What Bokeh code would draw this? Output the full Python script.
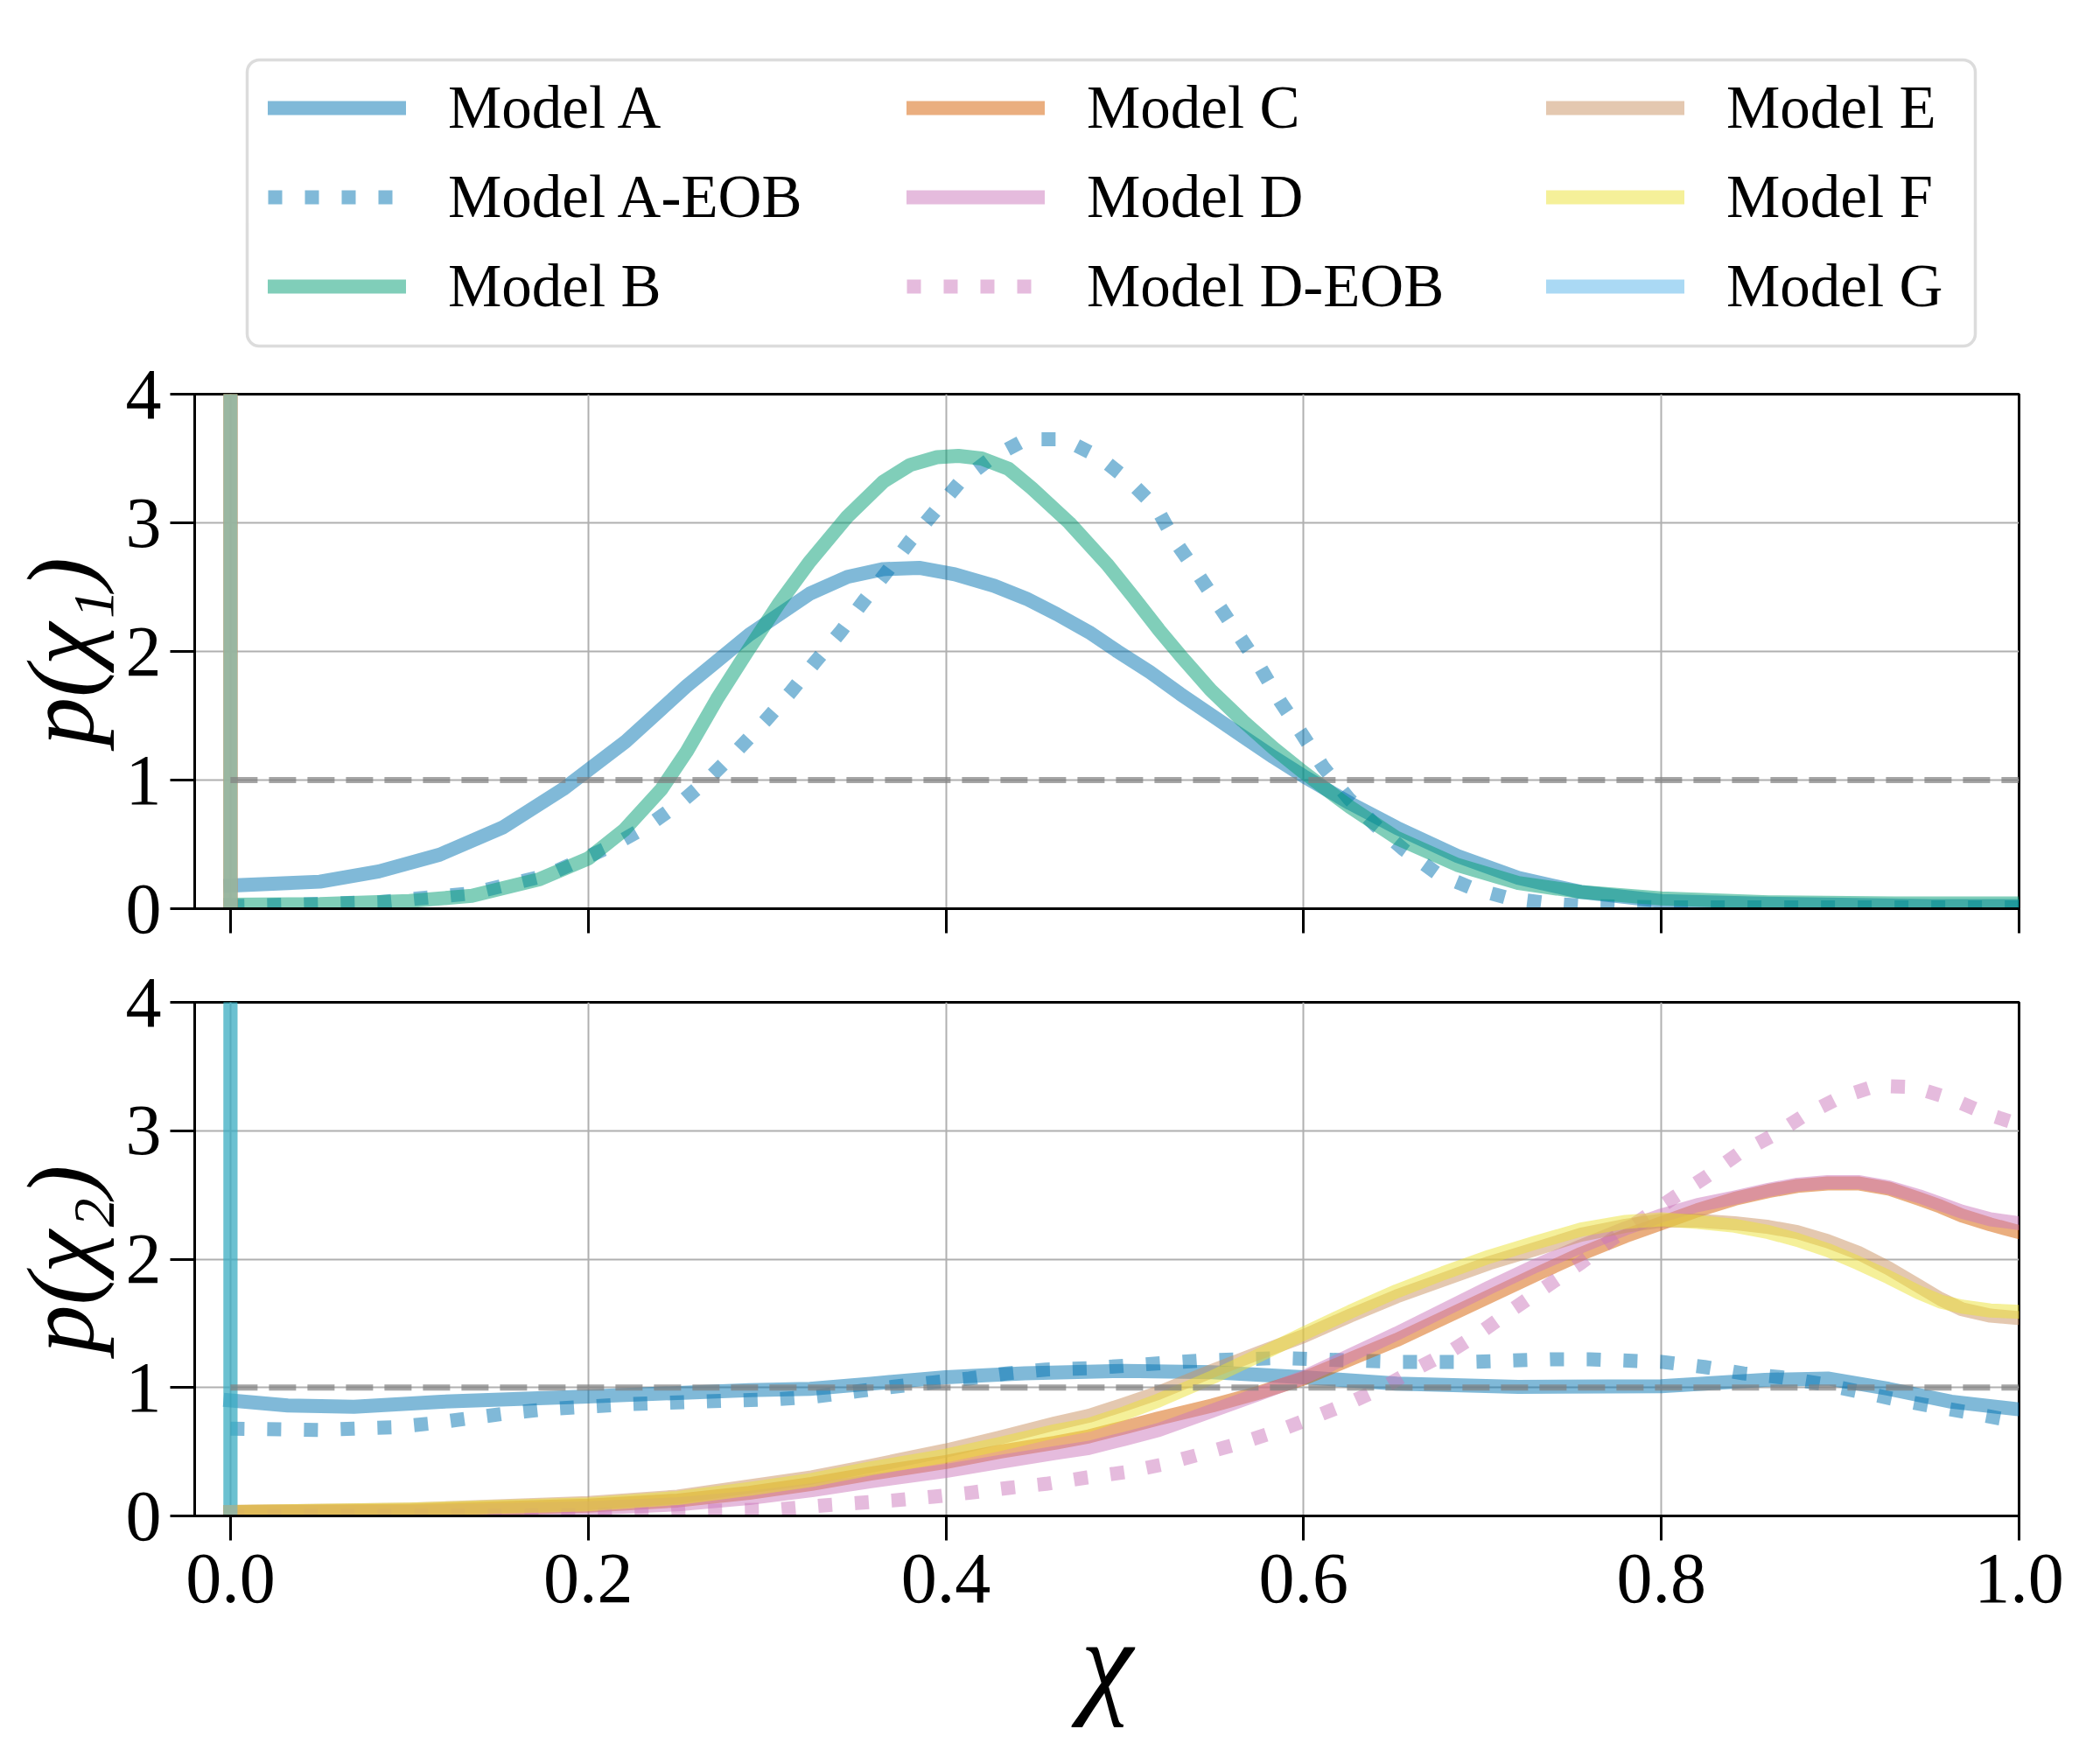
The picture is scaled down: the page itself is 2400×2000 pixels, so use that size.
from bokeh.plotting import figure
from bokeh.models import (Legend, LegendItem, BoxAnnotation, FixedTicker, Range1d,
                          CustomJSTickFormatter)
from bokeh.layouts import column
from bokeh.embed import file_html
from bokeh.resources import INLINE

# ------------------------------------------------------------------ data
x_ticks = [0.0, 0.2, 0.4, 0.6, 0.8, 1.0]
x_tick_labels = ["0.0", "0.2", "0.4", "0.6", "0.8", "1.0"]
y_ticks = [0, 1, 2, 3, 4]
y_tick_labels = ["0", "1", "2", "3", "4"]

# p(chi_1)
chi1_A_x = [0.0, 0.05, 0.083, 0.117, 0.152, 0.186, 0.221, 0.255, 0.29, 0.324, 0.345, 0.365,
            0.385, 0.405, 0.427, 0.445, 0.462, 0.48, 0.496, 0.514, 0.531, 0.549, 0.566, 0.583,
            0.6, 0.626, 0.652, 0.686, 0.72, 0.755, 0.8, 0.85, 0.9, 0.95, 1.0]
chi1_A_y = [0.18, 0.21, 0.29, 0.42, 0.63, 0.93, 1.30, 1.73, 2.13, 2.45, 2.58, 2.64,
            2.65, 2.60, 2.51, 2.41, 2.29, 2.15, 2.00, 1.84, 1.67, 1.50, 1.34, 1.18,
            1.03, 0.82, 0.63, 0.41, 0.24, 0.13, 0.06, 0.04, 0.03, 0.02, 0.02]

chi1_AEOB_x = [0.0, 0.083, 0.135, 0.177, 0.215, 0.234, 0.253, 0.268, 0.284, 0.299, 0.313,
               0.327, 0.341, 0.354, 0.367, 0.380, 0.394, 0.408, 0.426, 0.445, 0.466, 0.486,
               0.503, 0.518, 0.528, 0.540, 0.552, 0.564, 0.576, 0.587, 0.599, 0.611, 0.625,
               0.640, 0.656, 0.675, 0.694, 0.715, 0.738, 0.76, 0.8, 1.0]
chi1_AEOB_y = [0.02, 0.05, 0.12, 0.26, 0.50, 0.65, 0.84, 1.02, 1.24, 1.46, 1.68,
               1.92, 2.15, 2.39, 2.62, 2.86, 3.09, 3.32, 3.51, 3.65, 3.65, 3.51,
               3.32, 3.11, 2.86, 2.62, 2.37, 2.12, 1.87, 1.61, 1.36, 1.10, 0.86,
               0.65, 0.46, 0.27, 0.16, 0.08, 0.04, 0.02, 0.01, 0.01]

chi1_B_x = [0.0, 0.05, 0.1, 0.135, 0.173, 0.2, 0.22, 0.241, 0.255, 0.272, 0.289, 0.307,
            0.324, 0.345, 0.365, 0.38, 0.395, 0.407, 0.42, 0.435, 0.448, 0.469, 0.49, 0.505,
            0.519, 0.531, 0.548, 0.566, 0.583, 0.6, 0.626, 0.652, 0.686, 0.72, 0.755, 0.8,
            0.86, 0.93, 1.0]
chi1_B_y = [0.03, 0.035, 0.06, 0.10, 0.23, 0.39, 0.61, 0.93, 1.22, 1.63, 2.00, 2.38,
            2.70, 3.05, 3.32, 3.45, 3.51, 3.52, 3.50, 3.42, 3.27, 3.00, 2.68, 2.42,
            2.17, 1.97, 1.70, 1.46, 1.25, 1.06, 0.79, 0.55, 0.34, 0.20, 0.13, 0.08,
            0.05, 0.04, 0.04]

# spin distributions concentrated at zero
spike_x = [0.0, 0.0]
spike_y = [0.0, 40.0]

# reference level
uniform_x = [0.0, 1.0]
uniform_y = [1.0, 1.0]

# p(chi_2)
chi2_A_x = [0.0, 0.032, 0.069, 0.118, 0.2, 0.29, 0.324, 0.358, 0.4, 0.444, 0.5, 0.549,
            0.6, 0.652, 0.72, 0.8, 0.858, 0.893, 0.927, 0.962, 1.0]
chi2_A_y = [0.90, 0.86, 0.85, 0.89, 0.93, 0.98, 0.99, 1.03, 1.08, 1.11, 1.13, 1.12,
            1.08, 1.03, 1.005, 1.01, 1.06, 1.07, 0.99, 0.89, 0.83]

chi2_AEOB_x = [0.0, 0.049, 0.069, 0.09, 0.112, 0.133, 0.155, 0.176, 0.198, 0.221, 0.241,
               0.262, 0.284, 0.307, 0.327, 0.35, 0.37, 0.393, 0.413, 0.434, 0.456, 0.479,
               0.50, 0.542, 0.587, 0.628, 0.652, 0.693, 0.738, 0.76, 0.80, 0.824, 0.846,
               0.867, 0.889, 0.91, 0.93, 0.953, 0.974, 1.0]
chi2_AEOB_y = [0.68, 0.67, 0.68, 0.69, 0.72, 0.76, 0.80, 0.83, 0.85, 0.87, 0.88,
               0.89, 0.90, 0.91, 0.93, 0.97, 1.005, 1.04, 1.07, 1.11, 1.14, 1.15,
               1.17, 1.21, 1.23, 1.21, 1.20, 1.20, 1.22, 1.22, 1.20, 1.16, 1.11,
               1.08, 1.03, 0.97, 0.91, 0.85, 0.80, 0.73]

chi2_DEOB_x = [0.0, 0.2, 0.24, 0.262, 0.305, 0.33, 0.35, 0.37, 0.393, 0.413, 0.436, 0.456,
               0.479, 0.50, 0.521, 0.542, 0.563, 0.583, 0.604, 0.624, 0.645, 0.662, 0.683,
               0.70, 0.717, 0.736, 0.755, 0.772, 0.79, 0.807, 0.826, 0.843, 0.862, 0.88,
               0.90, 0.92, 0.941, 0.962, 0.982, 1.0]
chi2_DEOB_y = [0.0, 0.005, 0.02, 0.04, 0.05, 0.08, 0.10, 0.12, 0.15, 0.18, 0.22, 0.25,
               0.30, 0.34, 0.40, 0.48, 0.56, 0.65, 0.76, 0.87, 1.005, 1.14, 1.29,
               1.44, 1.61, 1.79, 1.97, 2.15, 2.32, 2.48, 2.65, 2.82, 2.96, 3.12,
               3.26, 3.35, 3.34, 3.25, 3.13, 3.05]

chi2_grid_x = [0.0, 0.1, 0.2, 0.25, 0.29, 0.325, 0.358, 0.4, 0.43, 0.461, 0.48, 0.5, 0.519,
               0.549, 0.575, 0.6, 0.626, 0.652, 0.678, 0.704, 0.73, 0.755, 0.78, 0.8, 0.82,
               0.841, 0.86, 0.876, 0.893, 0.91, 0.927, 0.944, 0.956, 0.968, 0.984, 1.0]
chi2_C_y = [0.03, 0.04, 0.08, 0.12, 0.18, 0.25, 0.33, 0.42, 0.50, 0.57, 0.62, 0.69, 0.76,
            0.86, 0.96, 1.07, 1.22, 1.37, 1.54, 1.71, 1.88, 2.04, 2.18, 2.28, 2.38,
            2.47, 2.53, 2.57, 2.59, 2.59, 2.55, 2.47, 2.41, 2.34, 2.27, 2.21]
chi2_D_y = [0.03, 0.03, 0.06, 0.09, 0.14, 0.20, 0.27, 0.35, 0.42, 0.49, 0.53, 0.60, 0.67,
            0.82, 0.95, 1.08, 1.25, 1.42, 1.60, 1.78, 1.95, 2.10, 2.24, 2.34, 2.42,
            2.48, 2.54, 2.58, 2.60, 2.60, 2.56, 2.49, 2.43, 2.37, 2.31, 2.28]
chi2_E_y = [0.03, 0.05, 0.10, 0.15, 0.23, 0.30, 0.39, 0.51, 0.61, 0.72, 0.78, 0.87, 0.96,
            1.13, 1.27, 1.40, 1.56, 1.71, 1.84, 1.97, 2.08, 2.19, 2.26, 2.30, 2.30,
            2.28, 2.25, 2.21, 2.14, 2.05, 1.93, 1.79, 1.69, 1.61, 1.56, 1.54]
chi2_F_y = [0.03, 0.05, 0.09, 0.14, 0.21, 0.28, 0.37, 0.47, 0.56, 0.66, 0.71, 0.80, 0.90,
            1.08, 1.25, 1.42, 1.59, 1.75, 1.89, 2.02, 2.13, 2.23, 2.29, 2.31, 2.29,
            2.26, 2.21, 2.15, 2.07, 1.97, 1.86, 1.74, 1.67, 1.63, 1.60, 1.59]

# ------------------------------------------------------------------ style
FONT = "Liberation Serif"
COL = {"A": "#0173B2", "B": "#029E73", "C": "#D55E00", "D": "#CC78BC",
       "E": "#CA9161", "F": "#ECE133", "G": "#56B4E9"}
ALPHA = 0.5
LW = 16
DOT = "16 26"
FIG_W = 2383
BORDER_L = 222
BORDER_R = 76


def line_kw(color, dotted):
    kw = dict(line_color=color, line_alpha=ALPHA, line_width=LW, line_join="round")
    if dotted:
        kw.update(line_dash=DOT, line_cap="butt")
    else:
        kw.update(line_cap="square")
    return kw


def add_line(p, x, y, color, dotted=False):
    return p.line(x=x, y=y, **line_kw(color, dotted))


def tick_fmt(tvals, tlabels):
    return CustomJSTickFormatter(args=dict(tv=tvals, tl=tlabels), code="""
        let b = 0;
        for (let i = 0; i < tv.length; i++) {
            if (Math.abs(tv[i] - tick) < Math.abs(tv[b] - tick)) { b = i; }
        }
        return tl[b];
    """)


def make_panel(height, top, bottom, ylabel, xlabel=None):
    p = figure(width=FIG_W, height=height, x_range=Range1d(-0.02, 1.0), y_range=Range1d(0, 4),
               output_backend="svg", toolbar_location=None,
               min_border_left=BORDER_L, min_border_right=BORDER_R,
               min_border_top=top, min_border_bottom=bottom)
    p.background_fill_color = "white"
    p.border_fill_color = "white"
    p.outline_line_color = "black"
    p.outline_line_width = 3
    p.outline_line_alpha = 1.0
    for ax in (p.xaxis[0], p.yaxis[0]):
        ax.axis_line_width = 3
        ax.axis_line_color = "black"
        ax.major_tick_line_width = 3
        ax.major_tick_line_color = "black"
        ax.major_tick_out = 28
        ax.major_tick_in = 0
        ax.minor_tick_out = 0
        ax.minor_tick_in = 0
        ax.major_label_text_font = FONT
        ax.major_label_text_font_size = "82px"
        ax.major_label_text_color = "black"
    p.xaxis.ticker = FixedTicker(ticks=x_ticks)
    p.yaxis.ticker = FixedTicker(ticks=y_ticks)
    p.xaxis.formatter = tick_fmt(x_ticks, x_tick_labels)
    p.yaxis.formatter = tick_fmt(y_ticks, y_tick_labels)
    p.yaxis.major_label_standoff = 10
    p.yaxis.axis_label = ylabel
    p.yaxis.axis_label_text_font = FONT
    p.yaxis.axis_label_text_font_style = "italic"
    p.yaxis.axis_label_text_font_size = "110px"
    p.yaxis.axis_label_standoff = 10
    p.yaxis.axis_label_text_color = "black"
    if xlabel is None:
        p.xaxis.major_label_text_font_size = "0px"
        p.xaxis.major_label_text_alpha = 0
        p.xaxis.major_label_standoff = 0
    else:
        p.xaxis.major_label_standoff = 16
        p.xaxis.axis_label = xlabel
        p.xaxis.axis_label_text_font = FONT
        p.xaxis.axis_label_text_font_style = "italic"
        p.xaxis.axis_label_text_font_size = "135px"
        p.xaxis.axis_label_standoff = -9
        p.xaxis.axis_label_text_color = "black"
    for g in (p.xgrid[0], p.ygrid[0]):
        g.grid_line_color = "#b0b0b0"
        g.grid_line_width = 2
    return p


# ------------------------------------------------------------------ legend figure
LEG_H = 400
FRAME_W = FIG_W - BORDER_L - BORDER_R
p0 = figure(width=FIG_W, height=LEG_H, x_range=Range1d(0, FRAME_W), y_range=Range1d(0, LEG_H),
            output_backend="svg", toolbar_location=None, x_axis_type=None, y_axis_type=None,
            min_border_left=BORDER_L, min_border_right=BORDER_R,
            min_border_top=0, min_border_bottom=0)
p0.grid.visible = False
p0.outline_line_color = None
p0.background_fill_color = "white"
p0.border_fill_color = "white"
# legend-only copies of the series live on ranges that keep them out of view
p0.extra_x_ranges = {"off": Range1d(10, 11)}
p0.extra_y_ranges = {"off": Range1d(10, 11)}

p0.add_layout(BoxAnnotation(left=60, right=2035, bottom=5, top=332,
                            fill_color="white", fill_alpha=1.0,
                            line_color="#dcdcdc", line_width=3.5, line_alpha=1.0,
                            border_radius=14, level="underlay"))

leg_specs = [
    [("Model A", COL["A"], False, chi1_A_x, chi1_A_y),
     ("Model A-EOB", COL["A"], True, chi1_AEOB_x, chi1_AEOB_y),
     ("Model B", COL["B"], False, chi1_B_x, chi1_B_y)],
    [("Model C", COL["C"], False, chi2_grid_x, chi2_C_y),
     ("Model D", COL["D"], False, chi2_grid_x, chi2_D_y),
     ("Model D-EOB", COL["D"], True, chi2_DEOB_x, chi2_DEOB_y)],
    [("Model E", COL["E"], False, chi2_grid_x, chi2_E_y),
     ("Model F", COL["F"], False, chi2_grid_x, chi2_F_y),
     ("Model G", COL["G"], False, spike_x, spike_y)],
]
leg_x = [84, 814, 1545]
for col_items, vx in zip(leg_specs, leg_x):
    items = []
    for label, color, dotted, xs, ys in col_items:
        r = p0.line(x=xs, y=ys, x_range_name="off", y_range_name="off", **line_kw(color, dotted))
        items.append(LegendItem(label=label, renderers=[r]))
    leg = Legend(items=items, location=(vx, 33), orientation="vertical",
                 glyph_width=158, glyph_height=80, label_height=80, label_standoff=48,
                 spacing=22, padding=0, margin=0,
                 border_line_color=None, background_fill_alpha=0.0,
                 label_text_font=FONT, label_text_font_size="69px", label_text_color="black")
    p0.add_layout(leg)

# ------------------------------------------------------------------ top panel
p1 = make_panel(688, 50, 50, "p(χ₁)")
add_line(p1, chi1_A_x, chi1_A_y, COL["A"])
add_line(p1, chi1_AEOB_x, chi1_AEOB_y, COL["A"], dotted=True)
add_line(p1, chi1_B_x, chi1_B_y, COL["B"])
for k in ["C", "D", "E", "F", "G"]:
    add_line(p1, spike_x, spike_y, COL[k])
p1.line(x=uniform_x, y=uniform_y, line_color="gray", line_alpha=0.7, line_width=7, line_dash="31 13")

# ------------------------------------------------------------------ bottom panel
p2 = make_panel(904, 57, 260, "p(χ₂)", xlabel="χ")
add_line(p2, chi2_A_x, chi2_A_y, COL["A"])
add_line(p2, chi2_AEOB_x, chi2_AEOB_y, COL["A"], dotted=True)
add_line(p2, spike_x, spike_y, COL["B"])
add_line(p2, chi2_grid_x, chi2_C_y, COL["C"])
add_line(p2, chi2_grid_x, chi2_D_y, COL["D"])
add_line(p2, chi2_DEOB_x, chi2_DEOB_y, COL["D"], dotted=True)
add_line(p2, chi2_grid_x, chi2_E_y, COL["E"])
add_line(p2, chi2_grid_x, chi2_F_y, COL["F"])
add_line(p2, spike_x, spike_y, COL["G"])
p2.line(x=uniform_x, y=uniform_y, line_color="gray", line_alpha=0.7, line_width=7, line_dash="31 13")

layout = column(p0, p1, p2)
open("out.html", "w").write(file_html(layout, INLINE))
